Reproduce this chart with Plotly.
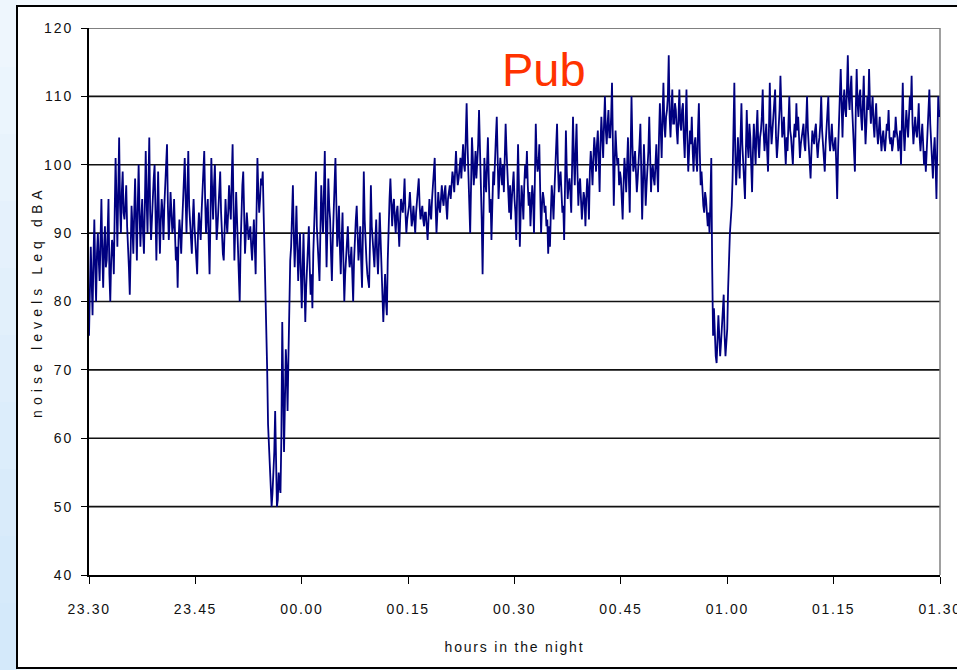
import plotly.graph_objects as go

# Leq readings (dBA), one every 7.5 s, grouped by quarter hour starting 23.30
leq_2330 = [75, 84, 88, 83, 78, 86, 92, 85, 80, 87, 90, 86, 83, 89, 95, 87, 82, 88, 91, 85,
            86, 90, 95, 84, 80, 86, 89, 88, 84, 93, 101, 95, 88, 96, 104, 94, 90, 96, 99, 93,
            92, 94, 97, 91, 86, 85, 81, 89, 94, 91, 87, 93, 98, 92, 86, 94, 100, 93, 88, 92,
            95, 90, 87, 94, 102, 95, 90, 97, 104, 93, 89, 92, 96, 98, 100, 91, 86, 93, 99, 92,
            87, 92, 95, 93, 89, 94, 97, 99, 103, 94, 89, 92, 96, 93, 90, 91, 95, 90, 86, 88,
            82, 89, 92, 90, 87, 91, 94, 97, 101, 95, 90, 96, 102, 94, 92, 90, 87, 92, 95, 91]
leq_2345 = [88, 86, 84, 90, 93, 91, 89, 93, 96, 98, 102, 95, 90, 93, 95, 89, 84, 92, 101, 96,
            92, 97, 100, 94, 89, 91, 94, 96, 99, 93, 88, 87, 86, 91, 95, 92, 90, 93, 97, 94,
            92, 98, 103, 94, 86, 91, 96, 92, 88, 85, 80, 88, 95, 97, 99, 92, 87, 90, 93, 91,
            89, 90, 91, 88, 86, 89, 92, 88, 84, 93, 101, 96, 93, 95, 98, 97, 99, 93, 87, 84,
            79, 70, 62, 59, 57, 53, 50, 52, 55, 58, 64, 54, 50, 51, 55, 53, 52, 60, 77, 68,
            58, 65, 73, 70, 64, 72, 82, 86, 88, 92, 97, 90, 85, 89, 94, 88, 83, 87, 90, 84]
leq_0000 = [79, 85, 90, 83, 77, 82, 86, 88, 91, 85, 81, 84, 79, 87, 92, 95, 99, 91, 88, 86,
            83, 90, 97, 93, 90, 96, 102, 92, 85, 91, 98, 94, 92, 87, 83, 89, 95, 97, 101, 92,
            88, 90, 94, 88, 84, 89, 93, 86, 80, 84, 87, 89, 91, 87, 85, 86, 88, 84, 80, 86,
            90, 92, 94, 89, 86, 88, 91, 86, 82, 90, 99, 92, 88, 86, 84, 83, 82, 89, 97, 91,
            89, 87, 85, 89, 92, 87, 84, 88, 93, 89, 86, 81, 77, 80, 84, 80, 78, 86, 92, 95,
            98, 93, 91, 94, 95, 92, 90, 93, 94, 91, 88, 92, 95, 94, 93, 95, 98, 93, 90, 92]
leq_0015 = [93, 94, 96, 93, 91, 92, 94, 92, 90, 93, 95, 96, 98, 94, 92, 93, 94, 92, 91, 93,
            93, 91, 89, 92, 95, 93, 92, 95, 97, 99, 101, 94, 90, 93, 96, 94, 93, 95, 97, 95,
            94, 96, 97, 94, 92, 95, 96, 97, 95, 97, 99, 98, 96, 99, 102, 99, 97, 98, 100, 101,
            98, 100, 103, 100, 99, 104, 109, 103, 98, 95, 90, 97, 104, 101, 97, 99, 102, 98, 100, 103,
            108, 103, 99, 92, 84, 94, 101, 98, 96, 100, 104, 98, 93, 95, 89, 94, 99, 97, 102, 104,
            107, 100, 95, 98, 101, 99, 97, 100, 96, 101, 106, 102, 98, 96, 93, 97, 92, 95, 97, 99]
leq_0030 = [95, 93, 89, 96, 103, 97, 88, 93, 97, 95, 92, 97, 100, 98, 102, 97, 94, 96, 91, 94,
            97, 95, 90, 98, 106, 101, 99, 100, 103, 96, 90, 94, 96, 95, 93, 94, 91, 92, 87, 91,
            88, 93, 97, 95, 92, 96, 100, 103, 106, 100, 96, 98, 99, 96, 93, 94, 89, 97, 105, 99,
            95, 97, 98, 96, 93, 100, 107, 101, 97, 102, 106, 99, 94, 97, 98, 95, 92, 94, 96, 95,
            91, 95, 98, 96, 92, 99, 102, 100, 97, 101, 104, 102, 99, 103, 105, 101, 96, 103, 107, 104,
            101, 106, 110, 105, 103, 106, 108, 104, 104, 107, 112, 103, 94, 100, 105, 102, 100, 101, 97, 99]
leq_0045 = [98, 95, 92, 97, 101, 99, 96, 100, 104, 98, 93, 102, 110, 103, 99, 100, 102, 99, 96, 98,
            100, 103, 106, 98, 92, 97, 103, 99, 94, 97, 99, 102, 107, 101, 96, 99, 100, 98, 97, 100,
            103, 99, 96, 104, 109, 105, 101, 107, 112, 106, 104, 107, 108, 110, 116, 107, 104, 108, 111, 106,
            106, 109, 108, 105, 103, 107, 111, 106, 105, 108, 109, 104, 101, 106, 111, 104, 99, 102, 105, 103,
            107, 102, 99, 103, 104, 101, 99, 105, 109, 102, 97, 99, 96, 94, 93, 96, 95, 92, 91, 93,
            90, 95, 101, 85, 75, 79, 73, 72, 71, 74, 78, 75, 72, 74, 76, 79, 81, 75, 72, 74]
leq_0100 = [76, 82, 88, 90, 92, 94, 98, 103, 112, 102, 97, 100, 104, 101, 98, 104, 109, 103, 100, 98,
            95, 102, 108, 103, 101, 106, 104, 100, 96, 102, 106, 103, 100, 105, 108, 103, 101, 104, 105, 107,
            111, 105, 102, 104, 106, 102, 99, 105, 112, 106, 103, 105, 107, 108, 111, 104, 101, 103, 105, 108,
            113, 106, 104, 105, 107, 103, 100, 104, 102, 106, 110, 105, 104, 102, 100, 104, 106, 104, 109, 105,
            107, 104, 101, 103, 104, 105, 106, 103, 102, 106, 110, 105, 103, 101, 98, 102, 105, 104, 103, 105,
            106, 103, 101, 103, 104, 106, 110, 105, 103, 101, 99, 103, 105, 107, 110, 104, 102, 104, 106, 103]
leq_0115 = [102, 103, 104, 100, 95, 102, 108, 110, 114, 108, 104, 109, 111, 108, 107, 111, 116, 110, 108, 111,
            113, 108, 105, 103, 99, 108, 114, 109, 107, 110, 111, 107, 105, 109, 113, 107, 103, 106, 110, 108,
            114, 109, 106, 108, 110, 106, 104, 107, 109, 105, 103, 105, 107, 104, 102, 104, 105, 103, 102, 104,
            106, 105, 108, 104, 103, 104, 102, 103, 105, 104, 107, 105, 104, 102, 103, 105, 100, 106, 112, 105,
            102, 105, 108, 106, 104, 107, 110, 108, 113, 106, 103, 105, 107, 105, 104, 106, 109, 104, 102, 104,
            106, 103, 100, 102, 99, 102, 105, 108, 111, 106, 103, 101, 98, 102, 104, 100, 95, 103, 110, 107, 108]

leq = leq_2330 + leq_2345 + leq_0000 + leq_0015 + leq_0030 + leq_0045 + leq_0100 + leq_0115
SAMPLE_MIN = 0.125
minutes = [i * SAMPLE_MIN for i in range(len(leq))]

tick_minutes = [0, 15, 30, 45, 60, 75, 90, 105, 120]
tick_labels = ["23.30", "23.45", "00.00", "00.15", "00.30", "00.45", "01.00", "01.15", "01.30"]
level_ticks = [40, 50, 60, 70, 80, 90, 100, 110, 120]
grid_levels = [50, 60, 70, 80, 90, 100, 110]

FONT = "Arial, 'Liberation Sans', sans-serif"
W, H = 957, 670
L, R, T, B = 89, 17, 28, 95
pw, ph = W - L - R, H - T - B


def px_x(p):
    return (p - L) / pw


def px_y(p):
    return (H - B - p) / ph


def spaced(s, gap):
    return f'<span style="letter-spacing:{gap}px">{s}</span>'


fig = go.Figure()
fig.add_trace(go.Scatter(
    x=minutes, y=leq, mode="lines",
    line=dict(color="#000080", width=1.8),
    hoverinfo="skip", showlegend=False,
))

shapes = []
# pale blue slide strip at the left edge
strip_cols = ["#eef6fd", "#ebf5fd", "#e8f3fc", "#e5f1fc", "#e2f0fb", "#dfeefb",
              "#dcedfb", "#d9ebfa", "#d6eafa", "#d4e9fa"]
n = len(strip_cols)
for i, c in enumerate(strip_cols):
    y_top = i * H / n
    y_bot = (i + 1) * H / n + 1
    shapes.append(dict(type="rect", xref="paper", yref="paper",
                       x0=px_x(0), x1=px_x(17), y0=px_y(y_bot), y1=px_y(y_top),
                       fillcolor=c, line=dict(width=0), layer="below"))
# white chart frame with black border
shapes.append(dict(type="rect", xref="paper", yref="paper",
                   x0=px_x(17), x1=px_x(975), y0=px_y(668), y1=px_y(6),
                   fillcolor="white", line=dict(color="black", width=2), layer="below"))
# horizontal gridlines
for g in grid_levels:
    shapes.append(dict(type="line", xref="paper", yref="y", x0=0, x1=1, y0=g, y1=g,
                       line=dict(color="#111111", width=1.6), layer="below"))
# grey plot-area border on top and right
shapes.append(dict(type="line", xref="paper", yref="y", x0=0, x1=1, y0=120, y1=120,
                   line=dict(color="#808080", width=2), layer="below"))
shapes.append(dict(type="line", xref="paper", yref="y", x0=1, x1=1, y0=40, y1=120,
                   line=dict(color="#808080", width=1.5), layer="below"))

fig.update_layout(
    width=W, height=H,
    margin=dict(l=L, r=R, t=T, b=B, autoexpand=False),
    paper_bgcolor="#f3f9fe", plot_bgcolor="white",
    font=dict(family=FONT, color="#111111"),
    shapes=shapes,
    xaxis=dict(
        range=[0, 120], tickmode="array", tickvals=tick_minutes,
        ticktext=[spaced(t, 1.6) for t in tick_labels],
        showgrid=False, zeroline=False,
        showline=True, linecolor="black", linewidth=1.6,
        ticks="outside", ticklen=7, tickwidth=1.4, tickcolor="black",
        tickfont=dict(size=14, family=FONT, color="#111111"),
        ticklabelstandoff=13, ticklabeloverflow="allow",
        title=dict(text=spaced("hours in the night", 1.8),
                   font=dict(size=14, family=FONT, color="#111111"), standoff=27),
        automargin=False,
    ),
    yaxis=dict(
        range=[40, 120], tickmode="array", tickvals=level_ticks,
        ticktext=[spaced(str(v), 2) for v in level_ticks],
        showgrid=False, zeroline=False,
        showline=True, linecolor="black", linewidth=1.6,
        ticks="outside", ticklen=6, tickwidth=1.4, tickcolor="black",
        tickfont=dict(size=14, family=FONT, color="#111111"),
        ticklabelstandoff=5, ticklabeloverflow="allow",
        automargin=False,
    ),
    annotations=[
        dict(text="Pub", xref="x", yref="y", x=64.1, y=113.9,
             showarrow=False, font=dict(size=47, family=FONT, color="#ff3300"),
             xanchor="center", yanchor="middle"),
        dict(text=spaced("noise levels Leq dBA", 5.1), xref="paper", yref="paper",
             x=px_x(37), y=px_y(302), textangle=-90, showarrow=False,
             font=dict(size=14, family=FONT, color="#111111"),
             xanchor="center", yanchor="middle"),
    ],
)

fig.write_html("out.html")
